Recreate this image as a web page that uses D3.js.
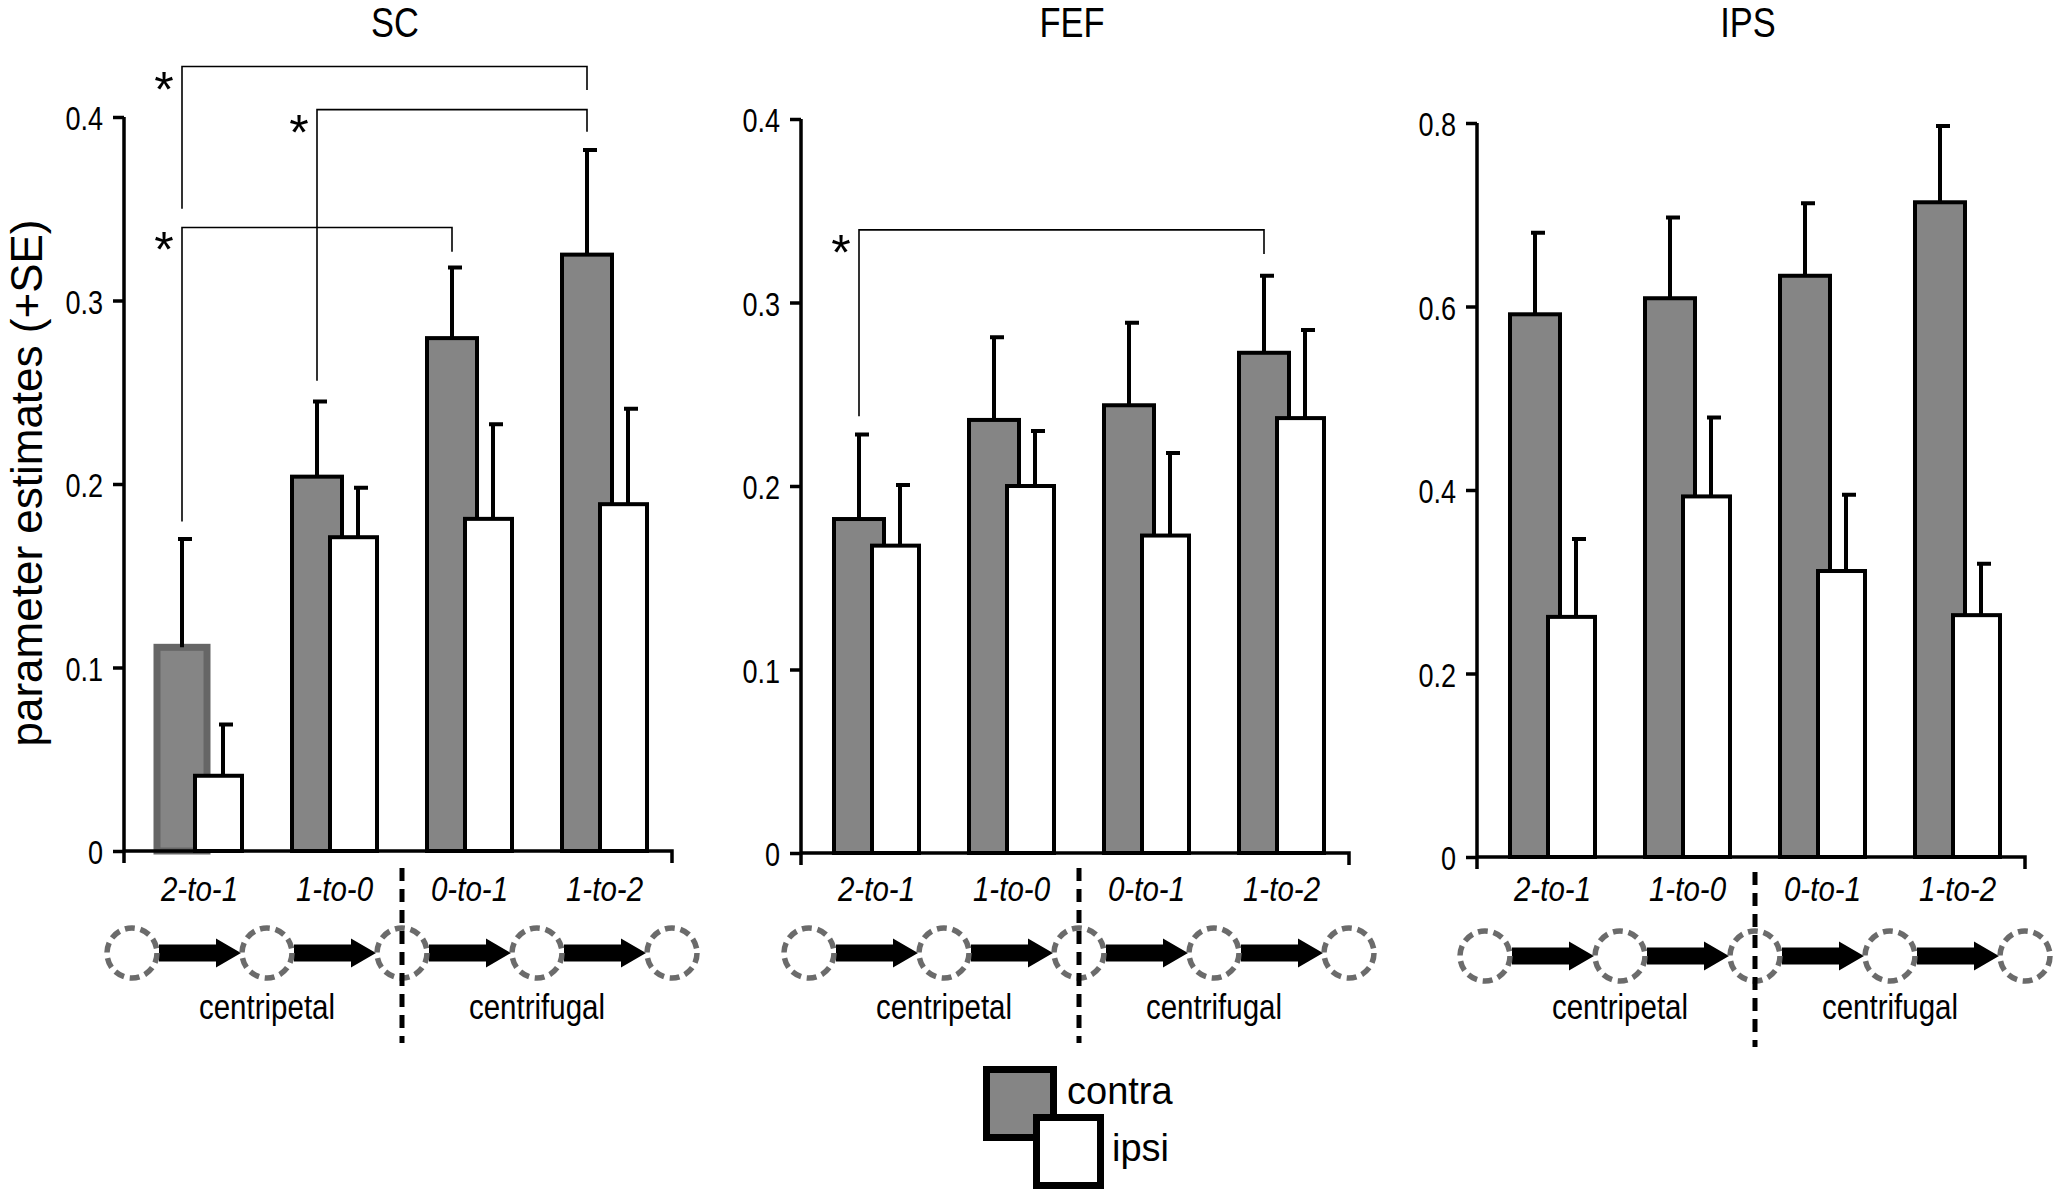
<!DOCTYPE html>
<html><head><meta charset="utf-8">
<script src="https://cdn.jsdelivr.net/npm/d3@7"></script>
<style>body{margin:0;background:#fff}</style>
</head><body><svg id="c" width="2055" height="1190"></svg>
<script>
// ---------- data ----------
const categories = ["2-to-1", "1-to-0", "0-to-1", "1-to-2"];
const seriesNames = ["contra", "ipsi"];
const panelNames = ["SC", "FEF", "IPS"];

const scContra    = [0.111, 0.204, 0.2795, 0.325];
const scContraSE  = [0.059, 0.041, 0.0385, 0.057];
const scIpsi      = [0.041, 0.171, 0.181, 0.189];
const scIpsiSE    = [0.028, 0.027, 0.0515, 0.052];

const fefContra   = [0.182, 0.236, 0.244, 0.2726];
const fefContraSE = [0.046, 0.045, 0.045, 0.042];
const fefIpsi     = [0.1675, 0.200, 0.173, 0.237];
const fefIpsiSE   = [0.033, 0.030, 0.045, 0.048];

const ipsContra   = [0.5915, 0.609, 0.6335, 0.7136];
const ipsContraSE = [0.089, 0.088, 0.079, 0.083];
const ipsIpsi     = [0.2617, 0.393, 0.3117, 0.2636];
const ipsIpsiSE   = [0.085, 0.086, 0.083, 0.056];

const scTicks  = [0, 0.1, 0.2, 0.3, 0.4];
const fefTicks = [0, 0.1, 0.2, 0.3, 0.4];
const ipsTicks = [0, 0.2, 0.4, 0.6, 0.8];
const scTickLabels  = ["0", "0.1", "0.2", "0.3", "0.4"];
const fefTickLabels = ["0", "0.1", "0.2", "0.3", "0.4"];
const ipsTickLabels = ["0", "0.2", "0.4", "0.6", "0.8"];

const directionLabels = ["centripetal", "centrifugal"];
const yAxisTitle = "parameter estimates (+SE)";

// significance brackets: level and the two end heights in data units
const brackets = [
  {panel: "SC",  from: "2-to-1", to: "1-to-2", level: 0.4275, leftEnd: 0.350,  rightEnd: 0.4147},
  {panel: "SC",  from: "1-to-0", to: "1-to-2", level: 0.404,  leftEnd: 0.2563, rightEnd: 0.392},
  {panel: "SC",  from: "2-to-1", to: "0-to-1", level: 0.3398, leftEnd: 0.1795, rightEnd: 0.3265},
  {panel: "FEF", from: "2-to-1", to: "1-to-2", level: 0.3396, leftEnd: 0.238,  rightEnd: 0.3264}
];

// ---------- assembly ----------
const panelData = {
  SC:  {ticks: scTicks,  labels: scTickLabels,  contra: scContra,  contraSE: scContraSE,  ipsi: scIpsi,  ipsiSE: scIpsiSE},
  FEF: {ticks: fefTicks, labels: fefTickLabels, contra: fefContra, contraSE: fefContraSE, ipsi: fefIpsi, ipsiSE: fefIpsiSE},
  IPS: {ticks: ipsTicks, labels: ipsTickLabels, contra: ipsContra, contraSE: ipsContraSE, ipsi: ipsIpsi, ipsiSE: ipsIpsiSE}
};
const layout = {
  SC:  {ax: 124,  top: 117, zero: 851, cy: 953, dash: 0},
  FEF: {ax: 801,  top: 119, zero: 853, cy: 953, dash: 0},
  IPS: {ax: 1477, top: 123, zero: 857, cy: 956, dash: 4}
};

const svg = d3.select("#c");
svg.append("rect").attr("width", 2055).attr("height", 1190).attr("fill", "#fff");

const SANS = "'Liberation Sans', Arial, sans-serif";
const GRAY = "#858585";
const NX = 0.82; // horizontal condensation of the figure's text

// condensed text placed at (x, y)
function narrowText(sel, x, y) {
  return sel.append("text").attr("transform", `scale(${NX},1)`).attr("x", x / NX).attr("y", y)
    .attr("font-family", SANS);
}

panelNames.forEach(name => {
  const d = panelData[name], L = layout[name];
  const g = svg.append("g");
  const y = d3.scaleLinear().domain([0, d3.max(d.ticks)]).range([L.zero, L.top]);
  const x = d3.scaleBand().domain(categories).range([L.ax + 8, L.ax + 548]);
  const gc = c => x(c) + x.bandwidth() / 2;

  // title
  narrowText(g, L.ax + 271, 37).attr("text-anchor", "middle").attr("font-size", 42).text(name);

  // y axis
  const yAxis = d3.axisLeft(y).tickValues(d.ticks).tickFormat((v, i) => d.labels[i])
    .tickSize(11).tickPadding(10).tickSizeOuter(0);
  const ya = g.append("g").attr("transform", `translate(${L.ax},0)`).call(yAxis);
  ya.select(".domain").remove();
  ya.selectAll(".tick line").attr("stroke", "#000").attr("stroke-width", 3.5);
  ya.selectAll(".tick text").attr("font-family", SANS).attr("font-size", 33).attr("fill", "#000")
    .attr("dy", "0.38em").attr("x", -21 / NX).attr("transform", `scale(${NX},1)`);

  // bars
  const rows = categories.map((c, i) => ({c, i, contra: d.contra[i], contraSE: d.contraSE[i], ipsi: d.ipsi[i], ipsiSE: d.ipsiSE[i]}));
  g.selectAll(".contra").data(rows).join("rect")
    .attr("x", r => gc(r.c) - 42.5).attr("width", 50)
    .attr("y", r => y(r.contra)).attr("height", r => y(0) - y(r.contra))
    .attr("fill", GRAY)
    .attr("stroke", r => (name === "SC" && r.i === 0) ? "#666" : "#000")
    .attr("stroke-width", r => (name === "SC" && r.i === 0) ? 7 : 4);
  g.selectAll(".ipsi").data(rows).join("rect")
    .attr("x", r => gc(r.c) - 4.5).attr("width", 47)
    .attr("y", r => y(r.ipsi)).attr("height", r => y(0) - y(r.ipsi))
    .attr("fill", "#fff").attr("stroke", "#000").attr("stroke-width", 4);

  // error bars
  const errs = [];
  rows.forEach(r => {
    errs.push({sx: gc(r.c) - 17.5, v: r.contra, se: r.contraSE});
    errs.push({sx: gc(r.c) + 23.5, v: r.ipsi, se: r.ipsiSE});
  });
  g.selectAll(".err").data(errs).join("path")
    .attr("d", e => `M${e.sx},${y(e.v)}V${y(e.v + e.se)}M${e.sx - 4},${y(e.v + e.se)}H${e.sx + 10}`)
    .attr("fill", "none").attr("stroke", "#000").attr("stroke-width", 4);

  // axis lines
  g.append("path")
    .attr("d", `M${L.ax},${L.top}V${L.zero + 12}M${L.ax},${L.zero}H${x.range()[1]}V${L.zero + 12}`)
    .attr("fill", "none").attr("stroke", "#000").attr("stroke-width", 3.5);

  // category labels
  const xAxis = d3.axisBottom(x).tickSize(0).tickPadding(0);
  const xa = g.append("g").attr("transform", `translate(0,${L.zero})`).call(xAxis);
  xa.select(".domain").remove();
  xa.selectAll(".tick text").attr("font-family", SANS).attr("font-size", 36)
    .attr("font-style", "italic").attr("fill", "#000").attr("dy", 0).attr("y", 901 - L.zero)
    .attr("transform", `scale(${NX},1)`);

  // brackets
  brackets.filter(b => b.panel === name).forEach(b => {
    const xl = gc(b.from) - 17.5, xr = gc(b.to) - 17.5;
    g.append("path")
      .attr("d", `M${xl},${y(b.leftEnd)}V${y(b.level)}H${xr}V${y(b.rightEnd)}`)
      .attr("fill", "none").attr("stroke", "#000").attr("stroke-width", 1.6);
    g.append("text").attr("x", xl - 18).attr("y", y(b.level) + 40)
      .attr("text-anchor", "middle").attr("font-family", SANS).attr("font-size", 50).text("*");
  });

  // node diagram
  const cy = L.cy;
  const nodes = categories.map(c => x(c)).concat([x.range()[1]]);
  for (let i = 0; i < 4; i++) {
    const x0 = nodes[i] + 27, x1 = nodes[i + 1] - 26, hx = x1 - 25;
    g.append("path")
      .attr("d", `M${x0},${cy - 8.5}H${hx}V${cy - 14.5}L${x1},${cy}L${hx},${cy + 14.5}V${cy + 8.5}H${x0}Z`)
      .attr("fill", "#000");
  }
  g.selectAll(".node").data(nodes).join("circle")
    .attr("cx", v => v).attr("cy", cy).attr("r", 25)
    .attr("fill", "none").attr("stroke", "#6b6b6b").attr("stroke-width", 5.5)
    .attr("stroke-dasharray", "10 5.7");
  g.append("line").attr("x1", nodes[2]).attr("x2", nodes[2])
    .attr("y1", 868 + L.dash).attr("y2", 1043 + L.dash)
    .attr("stroke", "#000").attr("stroke-width", 5).attr("stroke-dasharray", "13 8");
  directionLabels.forEach((t, i) => {
    narrowText(g, nodes[1 + 2 * i], 1019).attr("text-anchor", "middle").attr("font-size", 36).text(t);
  });
});

// y axis title
svg.append("text").attr("transform", "translate(42,483) rotate(-90)")
  .attr("text-anchor", "middle").attr("font-family", SANS).attr("font-size", 44).text(yAxisTitle);

// legend
const legend = svg.append("g");
const legendBoxes = [
  {x: 986.5, y: 1069.5, w: 67, h: 68, fill: GRAY, tx: 1067, ty: 1104},
  {x: 1036.5, y: 1117.5, w: 64, h: 68, fill: "#fff", tx: 1112, ty: 1161}
];
legend.selectAll("rect").data(legendBoxes).join("rect")
  .attr("x", b => b.x).attr("y", b => b.y).attr("width", b => b.w).attr("height", b => b.h)
  .attr("fill", b => b.fill).attr("stroke", "#000").attr("stroke-width", 7);
legend.selectAll("text").data(legendBoxes).join("text")
  .attr("x", b => b.tx).attr("y", b => b.ty)
  .attr("font-family", SANS).attr("font-size", 38).text((b, i) => seriesNames[i]);
</script></body></html>
